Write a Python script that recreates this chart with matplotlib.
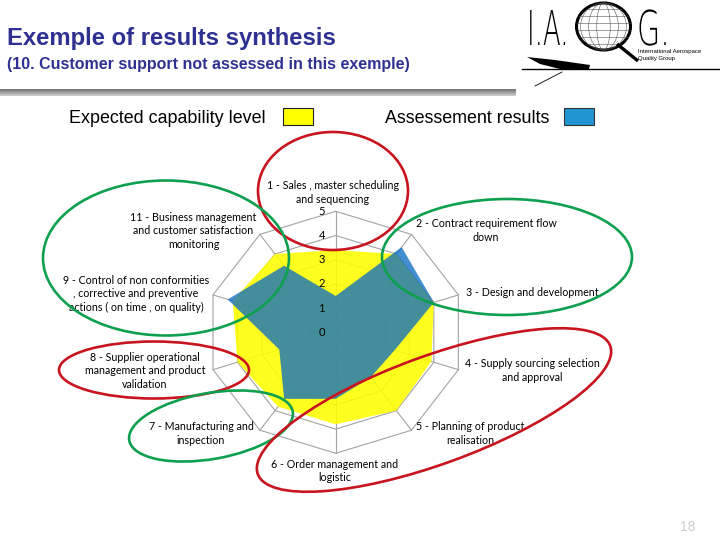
import numpy as np
import matplotlib
matplotlib.use("Agg")
import matplotlib.pyplot as plt
from matplotlib.patches import Ellipse, Rectangle, Polygon, PathPatch
from matplotlib.textpath import TextPath
from matplotlib.font_manager import FontProperties
import matplotlib.transforms as mtransforms

# ---------------- data ----------------
categories = [
    "1 - Sales , master scheduling\nand sequencing",
    "2 - Contract requirement flow\ndown",
    "3 - Design and development",
    "4 - Supply sourcing selection\nand approval",
    "5 - Planning of product\nrealisation",
    "6 - Order management and\nlogistic",
    "7 - Manufacturing and\ninspection",
    "8 - Supplier operational\nmanagement and product\nvalidation",
    "9 - Control of non conformities\n, corrective and preventive\nactions ( on time , on quality)",
    "11 - Business management\nand customer satisfaction\nmonitoring",
]
expected = [3.4, 4.0, 4.0, 3.9, 4.0, 3.8, 3.8, 4.0, 4.2, 4.0]
assessed = [1.5, 4.35, 4.0, 2.4, 2.3, 2.75, 3.4, 2.3, 4.4, 3.4]
ring_levels = [0, 1, 2, 3, 4, 5]
legend_labels = ["Expected capability level", "Assessement results"]
title = "Exemple of results synthesis"
subtitle = "(10. Customer support not assessed in this exemple)"
page_number = "18"

# ---------------- figure ----------------
W, H = 720, 540
fig = plt.figure(figsize=(7.2, 5.4), dpi=100)
fig.patch.set_facecolor("white")

# radar axes (cartesian, slightly stretched horizontally like the original)
cx, cy = 335.7, 332.3
rx, ry = 129 / 5, 121 / 5
lim = 6
ax_r = fig.add_axes([(cx - lim * rx) / W, (H - cy - lim * ry) / H,
                     2 * lim * rx / W, 2 * lim * ry / H])
ax_r.set_xlim(-lim, lim)
ax_r.set_ylim(-lim, lim)
ax_r.axis("off")

n = len(categories)
theta = np.deg2rad(90 - 360 / n * np.arange(n))


def polar_xy(vals):
    v = np.asarray(vals, float)
    return v * np.cos(theta), v * np.sin(theta)


grid_c = "#a3a3a3"
for lvl in ring_levels[1:]:
    gx, gy = polar_xy([lvl] * n)
    ax_r.plot(np.r_[gx, gx[0]], np.r_[gy, gy[0]], color=grid_c, lw=0.8, zorder=1)
for t in theta:
    ax_r.plot([0, ring_levels[-1] * np.cos(t)], [0, ring_levels[-1] * np.sin(t)],
              color=grid_c, lw=0.8, zorder=1)

ex, ey = polar_xy(expected)
ax_r.fill(ex, ey, color="#ffff00", alpha=0.88, lw=0, zorder=2)
bx, by = polar_xy(assessed)
ax_r.fill(bx, by, color=(0.03, 0.42, 0.76), alpha=0.76, lw=0, zorder=3)

for lvl in ring_levels:
    ax_r.text(-0.42, lvl, str(lvl), ha="right", va="center", fontsize=8,
              family="Lato", zorder=4)

# ---------------- overlay (pixel coordinates) ----------------
ov = fig.add_axes([0, 0, 1, 1], zorder=5)
ov.axis("off")
ov.patch.set_visible(False)

# title & subtitle
tcol = "#2e3192"
ov.text(7, 44.5, title, fontsize=17.2, fontweight="bold", color=tcol,
        family="Liberation Sans", va="baseline", ha="left")
ov.text(7, 68.5, subtitle, fontsize=11.5, fontweight="bold", color=tcol,
        family="Liberation Sans", va="baseline", ha="left")

# gray bar under the title
grad = np.linspace(0.45, 0.8, 8).reshape(-1, 1)
ov.imshow(np.repeat(grad, 2, axis=1), cmap="gray", vmin=0, vmax=1,
          extent=[0, 516, 96.5, 89.5], aspect="auto", zorder=1, interpolation="bilinear")
ov.set_xlim(0, W)
ov.set_ylim(H, 0)

# legend
ov.text(69, 123, legend_labels[0], fontsize=12.9, family="Liberation Sans",
        va="baseline", ha="left")
ov.add_patch(Rectangle((283, 108), 30, 17, fc="#ffff00", ec="#222222", lw=0.8))
ov.text(385, 123, legend_labels[1], fontsize=12.9, family="Liberation Sans",
        va="baseline", ha="left")
ov.add_patch(Rectangle((564, 108), 30, 17, fc="#1f96d2", ec="#333333", lw=0.8))

# category labels (positions in pixels)
label_pos = [(333, 192.5, "center"), (486, 230.5, "center"), (466, 293, "left"),
             (532, 370.5, "center"), (470, 433.5, "center"), (335, 471, "center"),
             (201, 433.3, "center"), (145, 371, "center"), (136, 294, "center"),
             (193.5, 230.6, "center")]
clip = Rectangle((64, 0), W - 64, H, transform=ov.transData)
for lab, (lx, ly, ha) in zip(categories, label_pos):
    t = ov.text(lx, ly, lab, ha=ha, va="center", multialignment="center",
                fontsize=7.7, family="Lato", linespacing=1.28, zorder=3)
    t.set_clip_path(clip)

# highlight ellipses
red, green = "#c8141e", "#0ea04e"
ellipses = [((333, 191), 150, 118, 0, red),
            ((166, 258), 246, 155, 0, green),
            ((507, 257), 250, 116, 0, green),
            ((154, 370), 190, 57, 0, red),
            ((211, 426), 166, 66, -10, green),
            ((434, 410), 375, 108, -20, red)]
for (c, w, h, a, col) in ellipses:
    ov.add_patch(Ellipse(c, w, h, angle=a, fill=False, ec=col, lw=1.9, zorder=4))

# ---------------- logo ----------------
fp = FontProperties(family="DejaVu Sans", weight="light")


def glyphs(s, x0, base, sx, sy):
    tp = TextPath((0, 0), s, size=1, prop=fp)
    tr = mtransforms.Affine2D().scale(sx, -sy).translate(x0, base) + ov.transData
    ov.add_patch(PathPatch(tp, transform=tr, fc="black", ec="none", zorder=6))


glyphs("I.A.", 527, 45, 26, 48)
glyphs("G.", 637, 45, 30, 48)

gx0, gy0, grx, gry = 603.5, 26.5, 27, 23.5
ov.add_patch(Ellipse((gx0, gy0), 2 * grx, 2 * gry, fc="white", ec="black", lw=2.2, zorder=6))
for f in [0.25, 0.55, 0.85]:
    ov.add_patch(Ellipse((gx0, gy0), 2 * grx * f, 2 * gry, fill=False, ec="#555555",
                         lw=0.4, zorder=6))
for yy in np.linspace(-0.75, 0.75, 6):
    half = grx * np.sqrt(1 - yy ** 2)
    ov.plot([gx0 - half, gx0 + half], [gy0 + yy * gry, gy0 + yy * gry],
            color="#555555", lw=0.4, zorder=6)
ov.plot([617, 638], [44, 61], color="black", lw=2.4, zorder=6, solid_capstyle="butt")
ov.text(638, 52, "International Aerospace", fontsize=4.3, family="Liberation Sans",
        va="center", ha="left", zorder=6)
ov.text(638, 58.5, "Quality Group", fontsize=4.3, family="Liberation Sans",
        va="center", ha="left", zorder=6)
ov.plot([522, 720], [68.5, 68.5], color="black", lw=1.0, zorder=6)
ov.add_patch(Polygon([(527, 57), (555, 60), (590, 65), (589, 69), (560, 69), (540, 64)],
                     closed=True, fc="black", ec="none", zorder=6))
ov.plot([535, 562], [86, 72], color="black", lw=0.6, zorder=6)

# page number
ov.text(688, 527, page_number, fontsize=10, color="#cfcfcf", family="Liberation Sans",
        ha="center", va="center")

fig.savefig("out.png", dpi=100, facecolor="white")
